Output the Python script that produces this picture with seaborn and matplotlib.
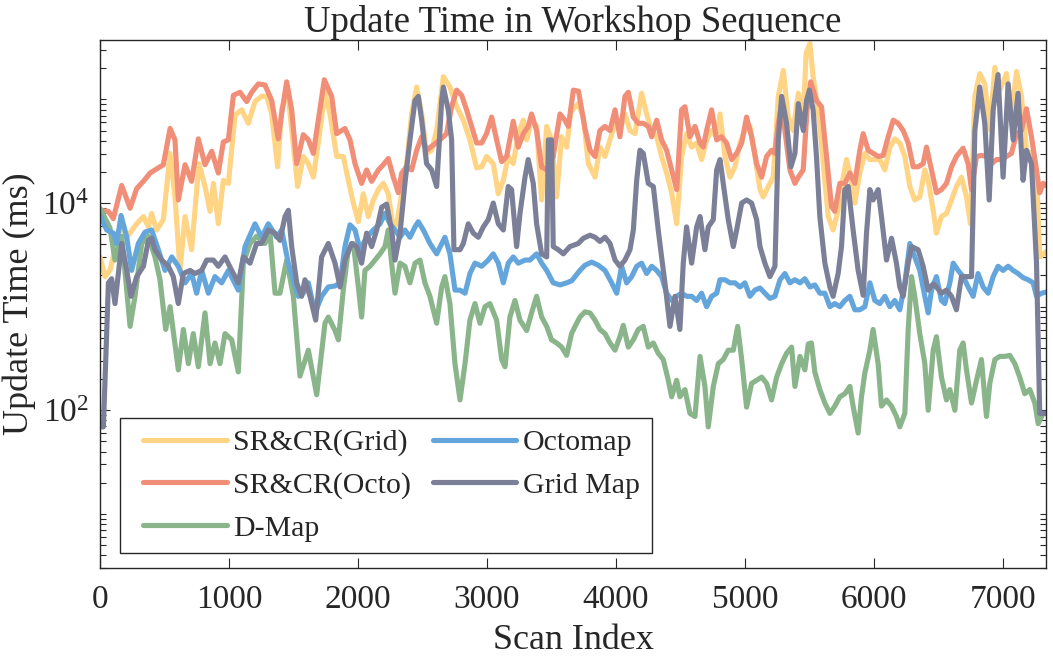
import numpy as np
import pandas as pd
import matplotlib
matplotlib.use("Agg")
import matplotlib.pyplot as plt
import matplotlib.ticker as mticker
from matplotlib.legend_handler import HandlerLine2D
import seaborn as sns

# values: (scan index, log10 of update time in ms)
sr_grid = [(0, 3.48), (39, 3.29), (77, 3.35), (155, 3.76), (220, 3.69), (284, 3.80), (336, 3.87), (375, 3.77),
           (400, 3.90), (439, 3.74), (491, 3.84), (543, 4.48), (581, 4.06), (620, 3.35), (659, 3.87), (710, 3.55),
           (767, 4.38), (814, 4.16), (853, 3.92), (879, 4.19), (917, 3.80), (956, 4.22), (995, 4.19), (1047, 4.85),
           (1098, 4.90), (1150, 4.77), (1202, 4.98), (1253, 5.03), (1292, 5.03), (1331, 4.86), (1377, 4.35),
           (1408, 4.90), (1455, 5.09), (1486, 4.71), (1532, 4.16), (1576, 4.45), (1615, 4.38), (1654, 4.25),
           (1692, 4.58), (1744, 5.07), (1783, 4.86), (1835, 4.45), (1886, 4.45), (1925, 4.22), (1964, 4.00),
           (2003, 3.82), (2041, 4.09), (2080, 3.87), (2119, 4.03), (2158, 4.13), (2196, 4.19), (2235, 4.09),
           (2274, 3.74), (2300, 3.80), (2339, 4.09), (2377, 4.38), (2416, 4.86), (2455, 5.12), (2494, 4.86),
           (2532, 4.48), (2571, 4.51), (2610, 4.70), (2662, 5.22), (2713, 5.12), (2765, 4.93), (2817, 4.80),
           (2868, 4.61), (2920, 4.34), (2959, 4.35), (2997, 4.45), (3049, 4.38), (3088, 4.09), (3127, 4.22),
           (3165, 4.45), (3204, 4.38), (3243, 4.67), (3282, 4.80), (3308, 4.61), (3346, 4.80), (3385, 4.74),
           (3424, 4.03), (3463, 4.74), (3501, 4.61), (3540, 4.06), (3579, 4.64), (3618, 4.54), (3650, 4.88),
           (3708, 4.96), (3747, 4.83), (3786, 4.38), (3838, 4.25), (3876, 4.54), (3915, 4.45), (3954, 4.61),
           (3993, 4.77), (4031, 4.70), (4070, 4.86), (4109, 4.70), (4148, 4.67), (4199, 5.06), (4238, 4.86),
           (4277, 4.70), (4316, 4.64), (4354, 4.45), (4393, 4.29), (4432, 4.10), (4471, 3.80), (4509, 4.45),
           (4548, 4.67), (4587, 4.54), (4626, 4.58), (4664, 4.42), (4703, 4.61), (4742, 4.70), (4781, 4.64),
           (4807, 4.86), (4845, 4.45), (4884, 4.25), (4923, 4.35), (4962, 4.58), (5000, 4.70), (5039, 4.74),
           (5078, 4.45), (5117, 4.13), (5142, 4.06), (5181, 4.16), (5220, 4.25), (5259, 5.03), (5298, 5.28),
           (5336, 4.83), (5375, 4.70), (5414, 5.06), (5453, 4.84), (5475, 5.45), (5504, 5.54), (5529, 5.22),
           (5568, 4.90), (5607, 4.38), (5646, 3.87), (5684, 3.74), (5723, 3.93), (5762, 4.25), (5788, 4.42),
           (5814, 4.29), (5852, 4.00), (5891, 4.29), (5930, 4.48), (5969, 4.42), (6007, 4.42), (6046, 4.42),
           (6085, 4.32), (6124, 4.54), (6162, 4.62), (6201, 4.58), (6240, 4.45), (6279, 4.16), (6317, 4.03),
           (6356, 4.06), (6395, 4.32), (6421, 4.22), (6460, 3.93), (6485, 3.71), (6524, 3.87), (6563, 3.90),
           (6602, 4.03), (6640, 4.16), (6679, 4.25), (6718, 4.06), (6749, 3.80), (6783, 5.03), (6821, 5.25),
           (6860, 5.15), (6899, 4.71), (6938, 5.31), (6976, 5.09), (7028, 5.25), (7067, 4.86), (7106, 5.27),
           (7144, 5.03), (7183, 4.51), (7222, 4.48), (7261, 4.29), (7286, 3.48), (7335, 3.53)]

sr_octo = [(0, 3.93), (65, 3.92), (103, 3.85), (168, 4.17), (233, 3.95), (284, 4.14), (336, 4.21), (388, 4.29),
           (439, 4.33), (491, 4.37), (543, 4.72), (581, 4.61), (607, 4.03), (659, 4.37), (710, 4.21), (762, 4.62),
           (814, 4.37), (866, 4.50), (917, 4.29), (956, 4.59), (995, 4.61), (1034, 5.04), (1085, 5.07),
           (1137, 4.98), (1176, 5.07), (1227, 5.15), (1279, 5.14), (1331, 4.99), (1382, 4.62), (1408, 4.86),
           (1447, 5.17), (1486, 4.90), (1525, 4.38), (1576, 4.66), (1615, 4.61), (1654, 4.48), (1692, 4.80),
           (1739, 5.19), (1796, 5.03), (1835, 4.67), (1899, 4.72), (1938, 4.61), (1977, 4.38), (2028, 4.19),
           (2067, 4.32), (2106, 4.21), (2158, 4.32), (2196, 4.37), (2235, 4.43), (2274, 4.25), (2313, 4.10),
           (2339, 4.29), (2377, 4.35), (2416, 4.32), (2455, 4.51), (2494, 4.64), (2532, 4.51), (2584, 4.56),
           (2636, 4.61), (2687, 4.67), (2726, 4.93), (2765, 5.09), (2804, 5.04), (2842, 4.90), (2881, 4.74),
           (2920, 4.58), (2959, 4.58), (2997, 4.67), (3036, 4.83), (3075, 4.61), (3114, 4.40), (3153, 4.45),
           (3204, 4.79), (3243, 4.54), (3282, 4.67), (3320, 4.74), (3346, 4.86), (3385, 4.70), (3424, 4.35),
           (3463, 4.32), (3514, 4.45), (3566, 4.86), (3605, 4.80), (3631, 4.74), (3670, 5.09), (3710, 5.08),
           (3760, 4.72), (3799, 4.51), (3838, 4.45), (3876, 4.70), (3915, 4.74), (3954, 4.70), (3993, 4.90),
           (4031, 4.64), (4070, 5.03), (4096, 5.07), (4135, 4.83), (4173, 4.77), (4212, 4.77), (4251, 4.74),
           (4277, 4.64), (4316, 4.80), (4354, 4.61), (4393, 4.51), (4432, 4.32), (4471, 4.13), (4509, 4.90),
           (4535, 4.93), (4574, 4.64), (4613, 4.74), (4652, 4.58), (4677, 4.54), (4703, 4.70), (4742, 4.90),
           (4781, 4.61), (4819, 4.64), (4858, 4.58), (4897, 4.42), (4936, 4.48), (4975, 4.58), (5013, 4.83),
           (5052, 4.64), (5091, 4.38), (5130, 4.25), (5168, 4.45), (5207, 4.51), (5233, 4.48), (5259, 4.77),
           (5285, 4.96), (5310, 4.70), (5349, 4.32), (5388, 4.19), (5414, 4.25), (5452, 4.32), (5482, 4.90),
           (5510, 5.17), (5555, 4.99), (5594, 4.93), (5633, 4.45), (5671, 3.97), (5697, 3.92), (5736, 4.19),
           (5775, 4.19), (5814, 4.29), (5852, 4.19), (5891, 4.51), (5917, 4.67), (5956, 4.51), (5994, 4.48),
           (6033, 4.45), (6072, 4.46), (6111, 4.64), (6150, 4.80), (6188, 4.77), (6227, 4.70), (6266, 4.58),
           (6305, 4.35), (6343, 4.35), (6382, 4.38), (6408, 4.54), (6447, 4.32), (6485, 4.10), (6524, 4.13),
           (6563, 4.19), (6602, 4.35), (6640, 4.45), (6692, 4.53), (6731, 4.38), (6757, 4.13), (6796, 4.45),
           (6834, 4.46), (6873, 4.45), (6912, 4.38), (6951, 4.42), (6989, 4.42), (7028, 4.45), (7067, 4.48),
           (7106, 4.67), (7144, 4.70), (7183, 4.91), (7222, 4.64), (7261, 4.32), (7286, 4.10), (7312, 4.19),
           (7335, 4.17)]

d_map = [(0, 3.95), (77, 3.76), (116, 3.45), (168, 3.68), (233, 2.81), (271, 3.10), (323, 3.61), (375, 3.68),
         (426, 3.48), (465, 3.26), (509, 2.78), (543, 3.00), (607, 2.39), (646, 2.78), (685, 2.45), (723, 2.74),
         (762, 2.42), (814, 2.94), (853, 2.45), (891, 2.65), (930, 2.45), (969, 2.74), (1021, 2.68), (1072, 2.37),
         (1111, 3.42), (1163, 3.61), (1214, 3.68), (1279, 3.61), (1318, 3.71), (1357, 3.13), (1395, 3.13),
         (1447, 3.45), (1499, 3.10), (1550, 2.33), (1615, 2.58), (1680, 2.15), (1744, 2.84), (1770, 2.90),
         (1822, 2.77), (1848, 2.68), (1886, 3.16), (1925, 3.55), (1964, 3.61), (2003, 3.19), (2028, 2.90),
         (2054, 3.35), (2093, 3.39), (2132, 3.45), (2171, 3.51), (2209, 3.58), (2235, 3.74), (2261, 3.42),
         (2287, 3.13), (2326, 3.42), (2364, 3.39), (2403, 3.23), (2442, 3.42), (2481, 3.45), (2519, 3.23),
         (2558, 3.10), (2610, 2.84), (2649, 3.19), (2674, 3.29), (2713, 3.03), (2752, 2.45), (2791, 2.10),
         (2830, 2.45), (2868, 2.87), (2907, 3.03), (2946, 2.84), (2985, 3.00), (3023, 3.03), (3075, 2.87),
         (3114, 2.49), (3140, 2.42), (3178, 2.90), (3217, 3.06), (3256, 2.87), (3308, 2.77), (3346, 2.94),
         (3385, 3.10), (3424, 2.90), (3463, 2.81), (3501, 2.68), (3540, 2.65), (3579, 2.61), (3618, 2.53),
         (3656, 2.74), (3683, 2.81), (3721, 2.90), (3760, 2.95), (3799, 2.94), (3838, 2.87), (3876, 2.78),
         (3915, 2.74), (3954, 2.65), (3993, 2.58), (4031, 2.71), (4057, 2.82), (4096, 2.61), (4135, 2.68),
         (4173, 2.78), (4212, 2.81), (4251, 2.61), (4290, 2.65), (4328, 2.55), (4367, 2.49), (4406, 2.29),
         (4432, 2.13), (4471, 2.29), (4496, 2.13), (4535, 2.20), (4574, 1.97), (4613, 1.94), (4652, 2.52),
         (4690, 2.23), (4716, 1.84), (4755, 2.23), (4794, 2.45), (4832, 2.49), (4871, 2.58), (4910, 2.58),
         (4944, 2.81), (4975, 2.49), (5013, 2.03), (5052, 2.26), (5091, 2.29), (5130, 2.32), (5168, 2.26),
         (5207, 2.10), (5246, 2.32), (5285, 2.45), (5323, 2.55), (5362, 2.61), (5388, 2.23), (5427, 2.52),
         (5465, 2.39), (5491, 2.64), (5516, 2.65), (5542, 2.37), (5581, 2.20), (5620, 2.07), (5659, 1.97),
         (5697, 2.04), (5736, 2.13), (5775, 2.16), (5814, 2.23), (5839, 2.04), (5878, 1.78), (5904, 2.13),
         (5930, 2.36), (5969, 2.58), (5994, 2.78), (6033, 2.45), (6059, 2.04), (6098, 2.10), (6137, 2.04),
         (6175, 1.94), (6201, 1.84), (6240, 1.97), (6266, 2.78), (6292, 3.29), (6317, 3.10), (6356, 2.74),
         (6395, 2.45), (6421, 2.00), (6460, 2.58), (6485, 2.71), (6524, 2.32), (6563, 2.10), (6589, 2.20),
         (6628, 2.00), (6666, 2.58), (6692, 2.65), (6718, 2.39), (6757, 2.07), (6796, 2.29), (6834, 2.49),
         (6873, 1.94), (6899, 2.26), (6938, 2.49), (6976, 2.52), (7015, 2.52), (7054, 2.53), (7093, 2.45),
         (7131, 2.32), (7170, 2.16), (7209, 2.20), (7248, 2.07), (7274, 1.87), (7312, 1.97), (7335, 1.97)]

octomap = [(0, 3.88), (52, 3.74), (103, 3.71), (129, 3.61), (163, 3.88), (207, 3.67), (245, 3.35), (297, 3.61),
           (349, 3.72), (400, 3.74), (452, 3.55), (504, 3.35), (556, 3.48), (607, 3.39), (659, 3.23), (710, 3.32),
           (749, 3.13), (788, 3.35), (840, 3.13), (891, 3.29), (943, 3.23), (995, 3.35), (1072, 3.16),
           (1124, 3.58), (1202, 3.80), (1253, 3.67), (1305, 3.80), (1370, 3.67), (1408, 3.74), (1460, 3.42),
           (1537, 3.10), (1576, 3.13), (1615, 3.23), (1667, 2.94), (1718, 3.10), (1770, 3.19), (1822, 3.20),
           (1861, 3.23), (1899, 3.58), (1938, 3.79), (1977, 3.74), (2016, 3.55), (2067, 3.67), (2119, 3.74),
           (2171, 3.80), (2209, 3.90), (2248, 3.80), (2287, 3.74), (2326, 3.67), (2364, 3.74), (2403, 3.67),
           (2442, 3.77), (2468, 3.82), (2507, 3.74), (2558, 3.61), (2610, 3.51), (2674, 3.67), (2713, 3.51),
           (2752, 3.16), (2791, 3.16), (2830, 3.13), (2868, 3.32), (2907, 3.42), (2959, 3.39), (3010, 3.45),
           (3049, 3.51), (3088, 3.42), (3127, 3.23), (3165, 3.42), (3204, 3.48), (3243, 3.42), (3295, 3.45),
           (3333, 3.45), (3385, 3.51), (3424, 3.42), (3463, 3.35), (3514, 3.23), (3566, 3.21), (3618, 3.23),
           (3657, 3.25), (3683, 3.29), (3721, 3.35), (3760, 3.40), (3812, 3.43), (3863, 3.40), (3915, 3.35),
           (3967, 3.23), (4006, 3.13), (4044, 3.39), (4083, 3.23), (4122, 3.29), (4161, 3.39), (4199, 3.42),
           (4238, 3.32), (4277, 3.39), (4316, 3.35), (4354, 3.29), (4393, 3.13), (4432, 3.06), (4471, 3.10),
           (4509, 3.13), (4548, 3.10), (4587, 3.10), (4626, 3.06), (4664, 3.13), (4703, 3.00), (4742, 3.10),
           (4781, 3.13), (4807, 3.26), (4845, 3.26), (4884, 3.23), (4923, 3.23), (4962, 3.19), (5000, 3.23),
           (5039, 3.10), (5078, 3.16), (5117, 3.18), (5155, 3.13), (5194, 3.08), (5233, 3.10), (5272, 3.26),
           (5310, 3.32), (5349, 3.23), (5388, 3.26), (5427, 3.23), (5465, 3.27), (5504, 3.19), (5542, 3.21),
           (5581, 3.13), (5620, 3.13), (5659, 3.00), (5697, 3.03), (5736, 3.00), (5775, 3.06), (5814, 3.10),
           (5852, 2.97), (5891, 2.97), (5930, 3.00), (5969, 3.23), (6007, 3.06), (6046, 3.03), (6085, 3.10),
           (6124, 3.00), (6162, 3.06), (6201, 2.97), (6240, 3.23), (6279, 3.61), (6317, 3.48), (6356, 3.35),
           (6395, 3.10), (6421, 2.94), (6447, 3.16), (6485, 3.29), (6524, 3.06), (6550, 3.03), (6589, 3.23),
           (6615, 3.42), (6653, 3.35), (6692, 3.29), (6731, 3.19), (6770, 3.10), (6808, 3.32), (6847, 3.19),
           (6886, 3.13), (6925, 3.29), (6963, 3.39), (7002, 3.35), (7041, 3.39), (7080, 3.35), (7118, 3.32),
           (7157, 3.28), (7196, 3.26), (7235, 3.23), (7261, 3.10), (7299, 3.13), (7335, 3.14)]

grid_map = [(0, 1.84), (26, 1.84), (65, 3.23), (90, 3.27), (116, 3.03), (168, 3.61), (207, 3.35), (240, 3.10),
            (284, 3.29), (336, 3.39), (375, 3.64), (400, 3.66), (426, 3.55), (478, 3.45), (530, 3.39), (568, 3.29),
            (607, 3.03), (646, 3.32), (698, 3.35), (736, 3.32), (788, 3.35), (827, 3.45), (879, 3.45), (917, 3.39),
            (969, 3.48), (1021, 3.35), (1072, 3.23), (1111, 3.48), (1163, 3.42), (1214, 3.61), (1253, 3.61),
            (1305, 3.74), (1357, 3.71), (1395, 3.64), (1434, 3.87), (1460, 3.93), (1486, 3.58), (1525, 3.23),
            (1563, 3.10), (1589, 3.26), (1628, 3.10), (1672, 2.87), (1718, 3.48), (1770, 3.61), (1822, 3.42),
            (1861, 3.19), (1899, 3.45), (1951, 3.61), (1990, 3.58), (2028, 3.42), (2067, 3.71), (2106, 3.58),
            (2145, 3.74), (2184, 3.96), (2222, 3.99), (2261, 3.74), (2287, 3.45), (2326, 3.71), (2364, 4.19),
            (2403, 4.61), (2442, 4.99), (2468, 5.03), (2494, 4.80), (2532, 4.38), (2571, 4.32), (2610, 4.16),
            (2649, 4.99), (2662, 5.12), (2700, 4.90), (2726, 4.61), (2744, 3.55), (2791, 3.55), (2817, 3.61),
            (2855, 3.80), (2894, 3.71), (2933, 3.67), (2972, 3.77), (3010, 3.84), (3049, 4.00), (3088, 3.80),
            (3127, 3.74), (3165, 4.16), (3191, 4.13), (3230, 3.58), (3256, 3.90), (3295, 4.25), (3320, 4.42),
            (3359, 4.19), (3385, 3.80), (3424, 3.51), (3463, 3.48), (3476, 4.61), (3501, 4.61), (3514, 3.58),
            (3553, 3.55), (3592, 3.51), (3643, 3.58), (3708, 3.61), (3747, 3.66), (3799, 3.69), (3838, 3.67),
            (3876, 3.63), (3915, 3.67), (3954, 3.61), (3993, 3.45), (4031, 3.39), (4070, 3.45), (4109, 3.55),
            (4135, 3.74), (4161, 4.22), (4186, 4.51), (4212, 4.48), (4251, 4.19), (4290, 4.16), (4328, 3.74),
            (4354, 3.48), (4380, 3.23), (4419, 2.81), (4458, 3.10), (4496, 2.78), (4522, 3.42), (4548, 3.77),
            (4587, 3.42), (4626, 3.77), (4652, 3.87), (4690, 3.55), (4716, 3.77), (4755, 3.84), (4781, 4.32),
            (4807, 4.42), (4832, 4.19), (4871, 3.84), (4910, 3.58), (4936, 3.74), (4975, 4.00), (5013, 4.03),
            (5052, 4.00), (5091, 3.84), (5117, 3.58), (5155, 3.42), (5194, 3.29), (5233, 3.39), (5259, 4.61),
            (5285, 5.03), (5323, 4.77), (5357, 4.35), (5388, 4.48), (5414, 4.96), (5453, 4.70), (5478, 4.99),
            (5500, 5.09), (5529, 4.90), (5555, 4.45), (5581, 3.87), (5620, 3.42), (5659, 3.19), (5684, 3.10),
            (5723, 3.32), (5749, 3.58), (5775, 4.13), (5801, 4.16), (5839, 3.74), (5878, 3.35), (5917, 3.11),
            (5943, 3.71), (5969, 4.13), (5994, 4.03), (6033, 4.13), (6059, 3.87), (6098, 3.45), (6137, 3.66),
            (6175, 3.42), (6201, 3.19), (6227, 3.10), (6266, 3.42), (6292, 3.58), (6343, 3.55), (6382, 3.39),
            (6421, 3.16), (6460, 3.22), (6485, 3.19), (6524, 3.13), (6563, 3.16), (6602, 3.10), (6640, 2.97),
            (6679, 3.29), (6718, 3.29), (6757, 3.29), (6783, 4.70), (6821, 5.12), (6860, 4.77), (6894, 4.03),
            (6925, 4.90), (6963, 5.24), (7002, 4.25), (7041, 5.15), (7080, 4.61), (7118, 5.06), (7157, 4.22),
            (7183, 4.51), (7222, 4.38), (7261, 3.42), (7286, 1.97), (7335, 1.97)]

labels = ["SR&CR(Grid)", "SR&CR(Octo)", "D-Map", "Octomap", "Grid Map"]
colors = ["#FFD585", "#F08E78", "#8AB58B", "#64A6DB", "#7B8098"]


class LeadLine(HandlerLine2D):
    # legend line that starts a little way into its handle box
    def get_xdata(self, legend, xdescent, ydescent, width, height, fontsize):
        x = np.array([-xdescent + 0.4 * fontsize, -xdescent + width])
        return x, x


sns.set_style("ticks")
plt.rcParams["font.family"] = "serif"
plt.rcParams["font.serif"] = ["Liberation Serif", "DejaVu Serif"]
plt.rcParams["mathtext.fontset"] = "stix"

dark = "#262626"

fig, ax = plt.subplots(figsize=(10.53, 6.59), dpi=100)
fig.subplots_adjust(left=0.095, right=0.9934, bottom=0.138, top=0.9393)

for series, lab, col in zip([sr_grid, sr_octo, d_map, octomap, grid_map], labels, colors):
    df = pd.DataFrame(series, columns=["scan", "logt"])
    df["time"] = 10 ** df["logt"]
    sns.lineplot(data=df, x="scan", y="time", ax=ax, color=col, linewidth=3.7,
                 label=lab, estimator=None, sort=False)

ax.set_yscale("log")
ax.set_xlim(0, 7335)
ax.set_ylim(3, 3.75e5)
ax.xaxis.set_major_locator(mticker.MultipleLocator(1000))
ax.yaxis.set_major_locator(mticker.FixedLocator([1e2, 1e4]))
ax.yaxis.set_minor_locator(mticker.LogLocator(base=10, subs=np.arange(1, 10), numticks=20))
ax.yaxis.set_minor_formatter(mticker.NullFormatter())

ax.tick_params(which="both", direction="in", top=True, right=True, colors=dark, labelsize=24)
ax.tick_params(which="major", length=7, width=0.8)
ax.tick_params(which="minor", length=4, width=0.8)
ax.tick_params(axis="x", pad=12)
ax.tick_params(axis="y", pad=8)
for sp in ax.spines.values():
    sp.set_color(dark)
    sp.set_linewidth(1.0)

ax.set_title("Update Time in Workshop Sequence", fontsize=26.5, pad=6)
ax.set_xlabel("Scan Index", fontsize=26, color=dark, labelpad=6)
ax.set_ylabel("Update Time (ms)", fontsize=26, color=dark, labelpad=4)

leg = ax.legend(ncol=2, loc="lower left", bbox_to_anchor=(0.021, 0.028), borderaxespad=0,
                fontsize=21.5, frameon=True, fancybox=False, framealpha=1, edgecolor=dark,
                handlelength=3.18, handletextpad=0.23, columnspacing=0.33, labelspacing=0.52,
                borderpad=0.39, handler_map={plt.Line2D: LeadLine()})
leg.get_frame().set_linewidth(1.0)

plt.savefig("out.png", dpi=100)
plt.close()
